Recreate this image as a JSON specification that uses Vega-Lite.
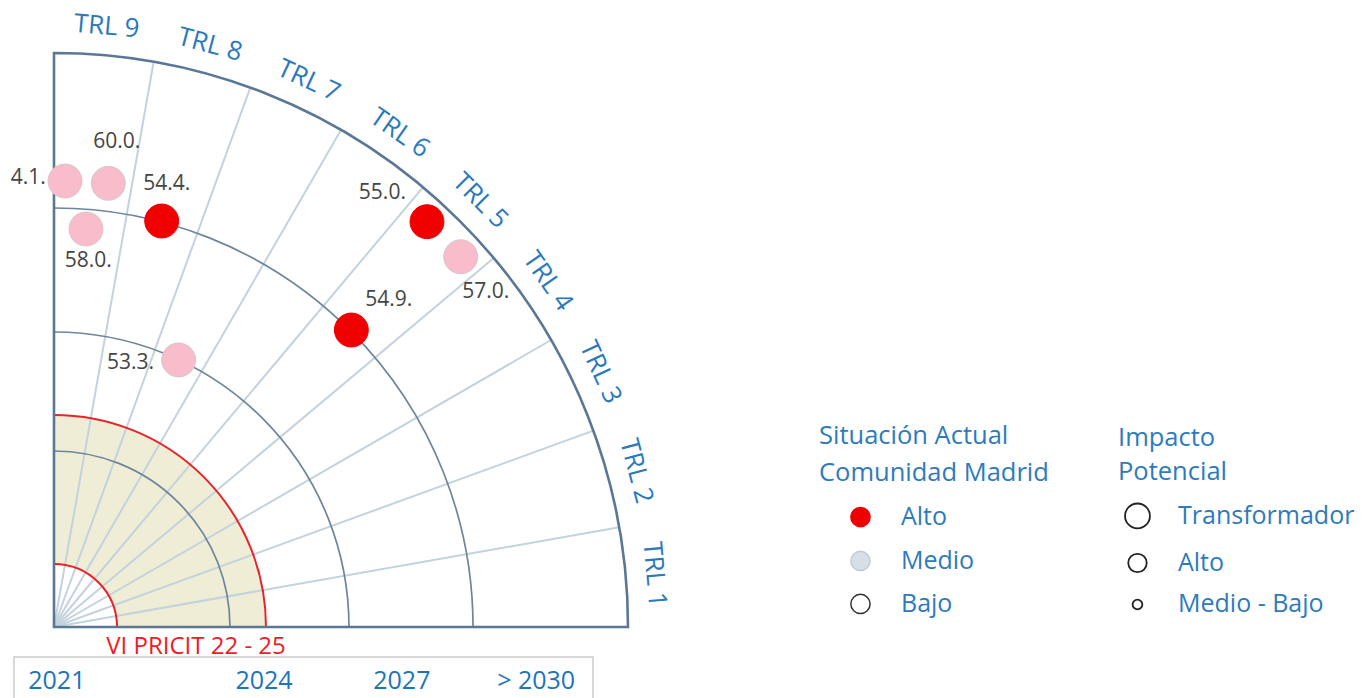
{
  "$schema": "https://vega.github.io/schema/vega-lite/v6.json",
  "width": 1318,
  "height": 600,
  "padding": {"left": 54, "top": 27, "right": 0, "bottom": 71},
  "autosize": {"type": "none"},
  "background": "white",
  "config": {"view": {"stroke": null}, "font": "Open Sans", "text": {"font": "Open Sans"}},
  "datasets": {
    "banda": [{"periodo": "VI PRICIT 22 - 25", "t0": 0, "t1": 9, "r0": 1.098, "r1": 3.693, "lx": 2.474, "ly": -0.348}],
    "radios": [{"b": 1, "r": 10}, {"b": 2, "r": 10}, {"b": 3, "r": 10}, {"b": 4, "r": 10}, {"b": 5, "r": 10}, {"b": 6, "r": 10}, {"b": 7, "r": 10}, {"b": 8, "r": 10}],
    "anillos": [
      {"r": 1.098, "tipo": "pricit"},
      {"r": 3.066, "tipo": "guia"},
      {"r": 3.693, "tipo": "pricit"},
      {"r": 5.139, "tipo": "guia"},
      {"r": 7.300, "tipo": "guia"}
    ],
    "marco": [{"r": 10, "t0": 0, "t1": 9}],
    "puntos": [
      {"id": "54.1", "situacion": "Medio", "x": 0.192, "y": 7.770, "etiqueta": "4.1.", "lx": -0.45, "ly": 7.822},
      {"id": "60.0", "situacion": "Medio", "x": 0.946, "y": 7.730, "etiqueta": "60.0.", "lx": 1.092, "ly": 8.449},
      {"id": "58.0", "situacion": "Medio", "x": 0.557, "y": 6.934, "etiqueta": "58.0.", "lx": 0.598, "ly": 6.385},
      {"id": "54.4", "situacion": "Alto", "x": 1.876, "y": 7.073, "etiqueta": "54.4.", "lx": 1.963, "ly": 7.714},
      {"id": "55.0", "situacion": "Alto", "x": 6.498, "y": 7.061, "etiqueta": "55.0.", "lx": 5.721, "ly": 7.556},
      {"id": "57.0", "situacion": "Medio", "x": 7.085, "y": 6.451, "etiqueta": "57.0.", "lx": 7.523, "ly": 5.836},
      {"id": "54.9", "situacion": "Alto", "x": 5.180, "y": 5.174, "etiqueta": "54.9.", "lx": 5.833, "ly": 5.702},
      {"id": "53.3", "situacion": "Medio", "x": 2.171, "y": 4.652, "etiqueta": "53.3.", "lx": 1.334, "ly": 4.608}
    ],
    "trl": [
      {"trl": "TRL 1", "u": 0.5},
      {"trl": "TRL 2", "u": 1.5},
      {"trl": "TRL 3", "u": 2.5},
      {"trl": "TRL 4", "u": 3.5},
      {"trl": "TRL 5", "u": 4.5},
      {"trl": "TRL 6", "u": 5.5},
      {"trl": "TRL 7", "u": 6.5},
      {"trl": "TRL 8", "u": 7.5},
      {"trl": "TRL 9", "u": 8.5}
    ],
    "caja": [{"x": -0.697, "x2": 9.39, "y": -0.523, "y2": -1.4}],
    "anios": [
      {"anio": "2021", "x": 0.05, "y": -0.941},
      {"anio": "2024", "x": 3.66, "y": -0.941},
      {"anio": "2027", "x": 6.06, "y": -0.941},
      {"anio": "> 2030", "x": 8.40, "y": -0.941}
    ],
    "titulos": [
      {"texto": "Situación Actual", "x": 13.328, "y": 3.188},
      {"texto": "Comunidad Madrid", "x": 13.328, "y": 2.544},
      {"texto": "Impacto", "x": 18.537, "y": 3.153},
      {"texto": "Potencial", "x": 18.537, "y": 2.561}
    ],
    "ley_sit": [
      {"nivel": "Alto", "x": 14.05, "y": 1.916, "tx": 14.756},
      {"nivel": "Medio", "x": 14.05, "y": 1.150, "tx": 14.756},
      {"nivel": "Bajo", "x": 14.05, "y": 0.401, "tx": 14.756}
    ],
    "ley_imp": [
      {"impacto": "Transformador", "x": 18.876, "y": 1.935, "tx": 19.582},
      {"impacto": "Alto", "x": 18.876, "y": 1.115, "tx": 19.582},
      {"impacto": "Medio - Bajo", "x": 18.876, "y": 0.392, "tx": 19.582}
    ]
  },
  "layer": [
    {
      "data": {"name": "banda"},
      "mark": {"type": "arc", "fill": "#efedd5", "strokeWidth": 0},
      "encoding": {
        "x": {"datum": 0, "type": "quantitative", "scale": {"domain": [0, 22.9617], "nice": false, "zero": false}, "axis": null},
        "y": {"datum": 0, "type": "quantitative", "scale": {"domain": [0, 10.453], "nice": false, "zero": false}, "axis": null},
        "theta": {"field": "t0", "type": "quantitative", "stack": null, "scale": {"domain": [0, 9], "range": [1.5707963, 0]}},
        "theta2": {"field": "t1"},
        "radius": {"field": "r0", "type": "quantitative", "scale": {"type": "linear", "domain": [0, 10], "range": [0, 574], "zero": true, "nice": false}},
        "radius2": {"field": "r1"}
      }
    },
    {
      "data": {"name": "radios"},
      "mark": {"type": "arc", "filled": false, "stroke": "#c3d3dd", "strokeWidth": 2},
      "encoding": {
        "x": {"datum": 0, "type": "quantitative", "scale": {"domain": [0, 22.9617], "nice": false, "zero": false}, "axis": null},
        "y": {"datum": 0, "type": "quantitative", "scale": {"domain": [0, 10.453], "nice": false, "zero": false}, "axis": null},
        "theta": {"field": "b", "type": "quantitative", "stack": null},
        "theta2": {"field": "b"},
        "radius": {"field": "r", "type": "quantitative"}
      }
    },
    {
      "data": {"name": "anillos"},
      "mark": {"type": "arc", "filled": false},
      "encoding": {
        "x": {"datum": 0, "type": "quantitative", "scale": {"domain": [0, 22.9617], "nice": false, "zero": false}, "axis": null},
        "y": {"datum": 0, "type": "quantitative", "scale": {"domain": [0, 10.453], "nice": false, "zero": false}, "axis": null},
        "theta": {"datum": 0, "type": "quantitative", "stack": null},
        "theta2": {"datum": 9},
        "radius": {"field": "r", "type": "quantitative"},
        "radius2": {"field": "r"},
        "stroke": {"field": "tipo", "type": "nominal", "scale": {"domain": ["pricit", "guia"], "range": ["#e8232a", "#6d869b"]}, "legend": null},
        "strokeWidth": {"condition": {"test": "datum.tipo === 'pricit'", "value": 2}, "value": 1.7}
      }
    },
    {
      "data": {"name": "marco"},
      "mark": {"type": "arc", "filled": false, "stroke": "#5a7895", "strokeWidth": 2.6},
      "encoding": {
        "x": {"datum": 0, "type": "quantitative", "scale": {"domain": [0, 22.9617], "nice": false, "zero": false}, "axis": null},
        "y": {"datum": 0, "type": "quantitative", "scale": {"domain": [0, 10.453], "nice": false, "zero": false}, "axis": null},
        "theta": {"field": "t0", "type": "quantitative", "stack": null},
        "theta2": {"field": "t1"},
        "radius": {"field": "r", "type": "quantitative"}
      }
    },
    {
      "data": {"name": "puntos"},
      "mark": {"type": "point", "filled": true, "opacity": 1, "size": 1150, "strokeWidth": 1},
      "encoding": {
        "x": {"field": "x", "type": "quantitative", "scale": {"domain": [0, 22.9617], "nice": false, "zero": false}, "axis": null},
        "y": {"field": "y", "type": "quantitative", "scale": {"domain": [0, 10.453], "nice": false, "zero": false}, "axis": null},
        "color": {"field": "situacion", "type": "nominal", "scale": {"domain": ["Alto", "Medio"], "range": ["#f00000", "#f8bccb"]}, "legend": null},
        "stroke": {"condition": {"test": "datum.situacion === 'Medio'", "value": "#d8c6cc"}, "value": "#f00000"}
      }
    },
    {
      "data": {"name": "puntos"},
      "mark": {"type": "text", "fontSize": 21, "color": "#454545", "align": "center", "baseline": "middle"},
      "encoding": {
        "x": {"field": "lx", "type": "quantitative", "scale": {"domain": [0, 22.9617], "nice": false, "zero": false}, "axis": null},
        "y": {"field": "ly", "type": "quantitative", "scale": {"domain": [0, 10.453], "nice": false, "zero": false}, "axis": null},
        "text": {"field": "etiqueta"}
      }
    },
    {
      "data": {"name": "trl"},
      "mark": {"type": "text", "fontSize": 26, "color": "#2a79bb", "align": "center", "baseline": "middle"},
      "encoding": {
        "x": {"datum": 0, "type": "quantitative", "scale": {"domain": [0, 22.9617], "nice": false, "zero": false}, "axis": null},
        "y": {"datum": 0, "type": "quantitative", "scale": {"domain": [0, 10.453], "nice": false, "zero": false}, "axis": null},
        "theta": {"field": "u", "type": "quantitative", "stack": null},
        "radius": {"datum": 10.5, "type": "quantitative"},
        "angle": {"field": "u", "type": "quantitative", "scale": {"domain": [0, 9], "range": [90, 0]}},
        "text": {"field": "trl"}
      }
    },
    {
      "data": {"name": "caja"},
      "mark": {"type": "rect", "fill": "white", "stroke": "#cdcdcd", "strokeWidth": 1.5},
      "encoding": {
        "x": {"field": "x", "type": "quantitative", "scale": {"domain": [0, 22.9617], "nice": false, "zero": false}, "axis": null},
        "x2": {"field": "x2"},
        "y": {"field": "y", "type": "quantitative", "scale": {"domain": [0, 10.453], "nice": false, "zero": false}, "axis": null},
        "y2": {"field": "y2"}
      }
    },
    {
      "data": {"name": "anios"},
      "mark": {"type": "text", "fontSize": 25, "color": "#1c74b9", "align": "center", "baseline": "middle"},
      "encoding": {
        "x": {"field": "x", "type": "quantitative", "scale": {"domain": [0, 22.9617], "nice": false, "zero": false}, "axis": null},
        "y": {"field": "y", "type": "quantitative", "scale": {"domain": [0, 10.453], "nice": false, "zero": false}, "axis": null},
        "text": {"field": "anio"}
      }
    },
    {
      "data": {"name": "banda"},
      "mark": {"type": "text", "fontSize": 24, "color": "#ee1c24", "align": "center", "baseline": "middle"},
      "encoding": {
        "x": {"field": "lx", "type": "quantitative", "scale": {"domain": [0, 22.9617], "nice": false, "zero": false}, "axis": null},
        "y": {"field": "ly", "type": "quantitative", "scale": {"domain": [0, 10.453], "nice": false, "zero": false}, "axis": null},
        "text": {"field": "periodo"}
      }
    },
    {
      "data": {"name": "titulos"},
      "mark": {"type": "text", "fontSize": 25.5, "color": "#2e7bbc", "align": "left", "baseline": "alphabetic"},
      "encoding": {
        "x": {"field": "x", "type": "quantitative", "scale": {"domain": [0, 22.9617], "nice": false, "zero": false}, "axis": null},
        "y": {"field": "y", "type": "quantitative", "scale": {"domain": [0, 10.453], "nice": false, "zero": false}, "axis": null},
        "text": {"field": "texto"}
      }
    },
    {
      "data": {"name": "ley_sit"},
      "mark": {"type": "point", "filled": true, "opacity": 1, "size": 370, "strokeWidth": 1.5},
      "encoding": {
        "x": {"field": "x", "type": "quantitative", "scale": {"domain": [0, 22.9617], "nice": false, "zero": false}, "axis": null},
        "y": {"field": "y", "type": "quantitative", "scale": {"domain": [0, 10.453], "nice": false, "zero": false}, "axis": null},
        "fill": {"field": "nivel", "type": "nominal", "scale": {"domain": ["Alto", "Medio", "Bajo"], "range": ["#f00000", "#d6dee7", "#ffffff"]}, "legend": null},
        "stroke": {"field": "nivel", "type": "nominal", "scale": {"domain": ["Alto", "Medio", "Bajo"], "range": ["#f00000", "#c3ccd5", "#333333"]}, "legend": null}
      }
    },
    {
      "data": {"name": "ley_sit"},
      "mark": {"type": "text", "fontSize": 25, "color": "#2e7bbc", "align": "left", "baseline": "middle"},
      "encoding": {
        "x": {"field": "tx", "type": "quantitative", "scale": {"domain": [0, 22.9617], "nice": false, "zero": false}, "axis": null},
        "y": {"field": "y", "type": "quantitative", "scale": {"domain": [0, 10.453], "nice": false, "zero": false}, "axis": null},
        "text": {"field": "nivel"}
      }
    },
    {
      "data": {"name": "ley_imp"},
      "mark": {"type": "point", "filled": false, "opacity": 1, "stroke": "#222222", "strokeWidth": 1.8},
      "encoding": {
        "x": {"field": "x", "type": "quantitative", "scale": {"domain": [0, 22.9617], "nice": false, "zero": false}, "axis": null},
        "y": {"field": "y", "type": "quantitative", "scale": {"domain": [0, 10.453], "nice": false, "zero": false}, "axis": null},
        "size": {"field": "impacto", "type": "ordinal", "scale": {"type": "ordinal", "domain": ["Transformador", "Alto", "Medio - Bajo"], "range": [620, 340, 95]}, "legend": null}
      }
    },
    {
      "data": {"name": "ley_imp"},
      "mark": {"type": "text", "fontSize": 25, "color": "#2e7bbc", "align": "left", "baseline": "middle"},
      "encoding": {
        "x": {"field": "tx", "type": "quantitative", "scale": {"domain": [0, 22.9617], "nice": false, "zero": false}, "axis": null},
        "y": {"field": "y", "type": "quantitative", "scale": {"domain": [0, 10.453], "nice": false, "zero": false}, "axis": null},
        "text": {"field": "impacto"}
      }
    }
  ],
  "resolve": {"scale": {"color": "independent", "fill": "independent", "stroke": "independent", "size": "independent"}}
}
